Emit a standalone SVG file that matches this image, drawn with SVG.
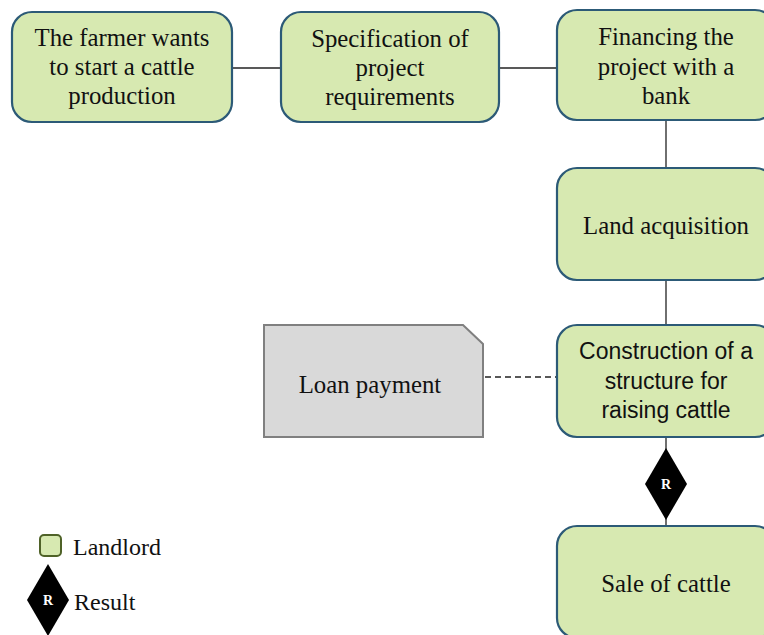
<svg xmlns="http://www.w3.org/2000/svg" width="764" height="635" viewBox="0 0 764 635">
<style>
.box{fill:#d7e9b1;stroke:#2c5a77;stroke-width:2.2}
.t{font-family:"Liberation Serif","Times New Roman",serif;font-size:24.8px;fill:#111;text-anchor:middle}
.s{font-family:"Liberation Sans",Arial,sans-serif;font-size:23px;fill:#111;text-anchor:middle}
.line{stroke:#222;stroke-width:1.3;fill:none}
.dash{stroke:#222;stroke-width:1.3;fill:none;stroke-dasharray:6,4}
.r{font-family:"Liberation Serif","Times New Roman",serif;font-size:14px;font-weight:bold;fill:#fff;text-anchor:middle}
.leg{font-family:"Liberation Serif","Times New Roman",serif;font-size:24px;fill:#111}
</style>
<rect width="764" height="635" fill="#fff"/>
<g id="connectors">
<line class="line" x1="232" y1="68" x2="281" y2="68"/>
<line class="line" x1="499" y1="68" x2="557" y2="68"/>
<line class="line" x1="666" y1="120" x2="666" y2="168"/>
<line class="line" x1="666" y1="280" x2="666" y2="325"/>
<line class="dash" x1="485" y1="377" x2="557" y2="377"/>
<line class="line" x1="666" y1="437" x2="666" y2="526"/>
<g id="result-marker">
<polygon points="666,448 687,484 666,520 645,484" fill="#000"/>
<text class="r" x="666" y="489">R</text>
</g>
</g>
<g id="n1">
<rect class="box" x="12" y="12" width="220" height="110" rx="20"/>
<text class="t" x="122" y="46">The farmer wants</text>
<text class="t" x="122" y="75">to start a cattle</text>
<text class="t" x="122" y="104">production</text>
</g>
<g id="n2">
<rect class="box" x="281" y="12" width="218" height="110" rx="20"/>
<text class="t" x="390" y="47">Specification of</text>
<text class="t" x="390" y="76">project</text>
<text class="t" x="390" y="105">requirements</text>
</g>
<g id="n3">
<rect class="box" x="557" y="10" width="218" height="110" rx="20"/>
<text class="t" x="666" y="45">Financing the</text>
<text class="t" x="666" y="75">project with a</text>
<text class="t" x="666" y="104">bank</text>
</g>
<g id="n4">
<rect class="box" x="557" y="168" width="218" height="112" rx="20"/>
<text class="t" x="666" y="234">Land acquisition</text>
</g>
<g id="n5">
<rect class="box" x="557" y="325" width="218" height="112" rx="20"/>
<text class="s" x="666" y="359">Construction of a</text>
<text class="s" x="666" y="389">structure for</text>
<text class="s" x="666" y="418">raising cattle</text>
</g>
<g id="n6">
<rect class="box" x="557" y="526" width="218" height="112" rx="20"/>
<text class="t" x="666" y="592">Sale of cattle</text>
</g>
<g id="loan">
<path d="M264,325 H463 L483,344 V437 H264 Z" fill="#d9d9d9" stroke="#808080" stroke-width="2"/>
<text class="t" x="370" y="393">Loan payment</text>
</g>
<g id="legend">
<rect x="40" y="535" width="21" height="21" rx="4" fill="#d7e9b1" stroke="#4f6228" stroke-width="2"/>
<text class="leg" x="73" y="555">Landlord</text>
<polygon points="48,564 69,600 48,636 27,600" fill="#000"/>
<text class="r" x="48" y="605">R</text>
<text class="leg" x="74" y="610">Result</text>
</g>
</svg>
